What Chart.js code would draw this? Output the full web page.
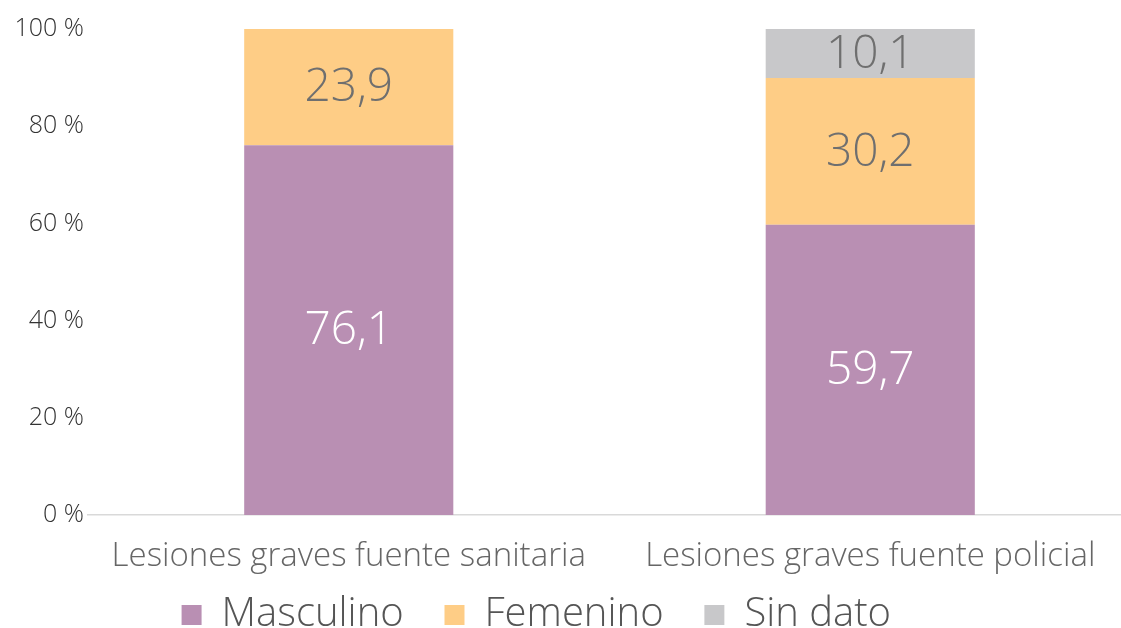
<!DOCTYPE html>
<html lang="es">
<head>
    <meta charset="UTF-8">
    <title>Lesiones graves por sexo</title>
    <script src="https://cdn.jsdelivr.net/npm/chart.js"></script>
    <style>
        html, body {
            margin: 0;
            padding: 0;
            background: #ffffff;
            overflow: hidden;
        }
        #wrap {
            width: 1131px;
            height: 628px;
        }
    </style>
</head>
<body>
    <div id="wrap">
        <canvas id="chart"></canvas>
    </div>

    <script>
        const categories = ['Lesiones graves fuente sanitaria', 'Lesiones graves fuente policial'];
        const masculino = [76.1, 59.7];
        const femenino = [23.9, 30.2];
        const sinDato = [null, 10.1];
        const yTicks = [0, 20, 40, 60, 80, 100];

        const FONT = "'Open Sans', Lato, sans-serif";

        // draws the value in the middle of each bar segment
        const segmentLabels = {
            id: 'segmentLabels',
            afterDatasetsDraw(chart) {
                const ctx = chart.ctx;
                ctx.save();
                ctx.font = '300 46px ' + FONT;
                ctx.textAlign = 'center';
                ctx.textBaseline = 'middle';
                chart.data.datasets.forEach((ds, i) => {
                    const meta = chart.getDatasetMeta(i);
                    meta.data.forEach((bar, j) => {
                        const v = ds.data[j];
                        if (v == null) return;
                        const mid = (bar.y + bar.base) / 2;
                        ctx.fillStyle = ds.labelColor;
                        ctx.fillText(v.toFixed(1).replace('.', ','), bar.x, mid + 1);
                    });
                });
                ctx.restore();
            }
        };

        new Chart(document.getElementById('chart'), {
            type: 'bar',
            data: {
                labels: categories,
                datasets: [
                    { label: 'Masculino', data: masculino, backgroundColor: '#b98fb3', labelColor: '#ffffff' },
                    { label: 'Femenino', data: femenino, backgroundColor: '#fecd86', labelColor: '#6f6f6f' },
                    { label: 'Sin dato', data: sinDato, backgroundColor: '#c8c8ca', labelColor: '#6f6f6f' }
                ]
            },
            options: {
                responsive: true,
                maintainAspectRatio: false,
                animation: false,
                datasets: {
                    bar: { categoryPercentage: 1, barPercentage: 0.401 }
                },
                layout: { padding: { top: 29, left: 4, right: 0, bottom: 0 } },
                plugins: {
                    tooltip: { enabled: false },
                    legend: {
                        position: 'bottom',
                        maxHeight: 53,
                        labels: {
                            boxWidth: 20,
                            boxHeight: 20,
                            padding: 20,
                            color: '#555555',
                            font: { family: FONT, size: 40, weight: '300' },
                            generateLabels(chart) {
                                const items = Chart.defaults.plugins.legend.labels.generateLabels(chart);
                                items.forEach((it, i) => {
                                    // extra trailing space widens the gap between entries
                                    it.text = it.text + (i === items.length - 1 ? '      ' : '  ');
                                    it.lineWidth = 0;
                                });
                                return items;
                            }
                        }
                    }
                },
                scales: {
                    x: {
                        stacked: true,
                        afterFit(axis) {
                            axis.height = 60;
                        },
                        grid: { display: false, drawTicks: false },
                        border: { color: '#d9d9d9', width: 1.5 },
                        ticks: {
                            padding: 22,
                            color: '#666666',
                            font: { family: FONT, size: 33, weight: '300' }
                        }
                    },
                    y: {
                        stacked: true,
                        min: 0,
                        max: 100,
                        afterBuildTicks(axis) {
                            axis.ticks = yTicks.map(v => ({ value: v }));
                        },
                        afterFit(axis) {
                            axis.width = 84;
                        },
                        grid: { display: false, drawTicks: false },
                        border: { display: false },
                        ticks: {
                            padding: 4,
                            color: '#333333',
                            font: { family: FONT, size: 25, weight: '300' },
                            callback: v => v + ' %'
                        }
                    }
                }
            },
            plugins: [segmentLabels]
        });
    </script>
</body>
</html>
